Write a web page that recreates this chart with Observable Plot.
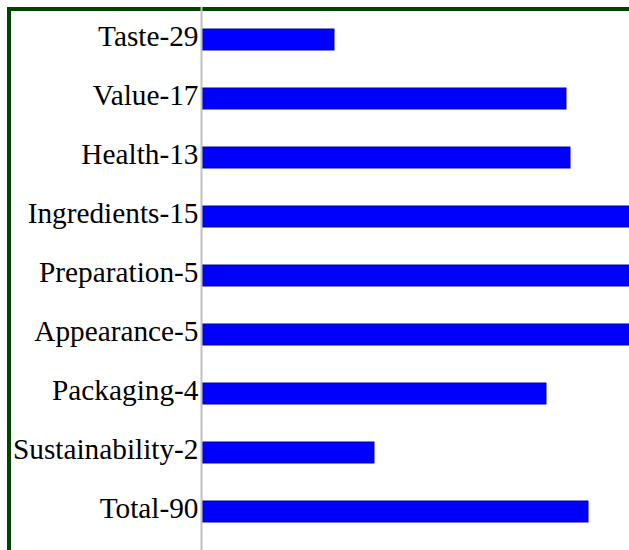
<!DOCTYPE html>
<html>
<head>
<meta charset="utf-8">
<script src="https://cdn.jsdelivr.net/npm/d3@7"></script>
<script src="https://cdn.jsdelivr.net/npm/@observablehq/plot@0.6"></script>
<style>
  html, body { margin: 0; padding: 0; background: #ffffff; overflow: hidden; }
  #wrap { position: relative; width: 629px; height: 550px; }
  #frame { position: absolute; left: 7px; top: 7px; right: -10px; bottom: -10px;
           border-top: 4px solid #004400; border-left: 4px solid #004400; }
  #chart { position: absolute; left: 0; top: 0; }
</style>
</head>
<body>
<div id="wrap"><div id="frame"></div><div id="chart"></div></div>
<script>
const categories = ["Taste", "Value", "Health", "Ingredients", "Preparation", "Appearance", "Packaging", "Sustainability", "Total"];
const counts = [29, 17, 13, 15, 5, 5, 4, 2, 90];
const scores = [1.32, 3.64, 3.68, 4.6, 4.6, 4.6, 3.44, 1.72, 3.86];

const labels = categories.map((c, i) => `${c}-${counts[i]}`);
const data = labels.map((label, i) => ({label, score: scores[i]}));

const chart = Plot.plot({
  width: 629,
  height: 550,
  marginLeft: 202,
  marginRight: 0,
  marginTop: 9,
  marginBottom: 8,
  style: {background: "transparent", fontFamily: "'Liberation Serif', 'Times New Roman', serif", fontSize: "29.3px", color: "#000"},
  x: {domain: [0, 4.27], axis: null},
  y: {domain: labels, padding: 0, axis: null},
  marks: [
    Plot.barX(data, {x: "score", y: "label", fill: "#0000ff", stroke: "#0000a8", strokeWidth: 1, insetTop: 19, insetBottom: 19, clip: true}),
    Plot.ruleX([0], {stroke: "#c0c0c0", strokeWidth: 2, dx: -1, insetTop: -2, insetBottom: -8}),
    Plot.axisY({tickSize: 0, tickPadding: 4, label: null, fontSize: 29.3, fontFamily: "Liberation Serif", fill: "#000", dy: -3})
  ]
});
document.getElementById("chart").appendChild(chart);
</script>
</body>
</html>
